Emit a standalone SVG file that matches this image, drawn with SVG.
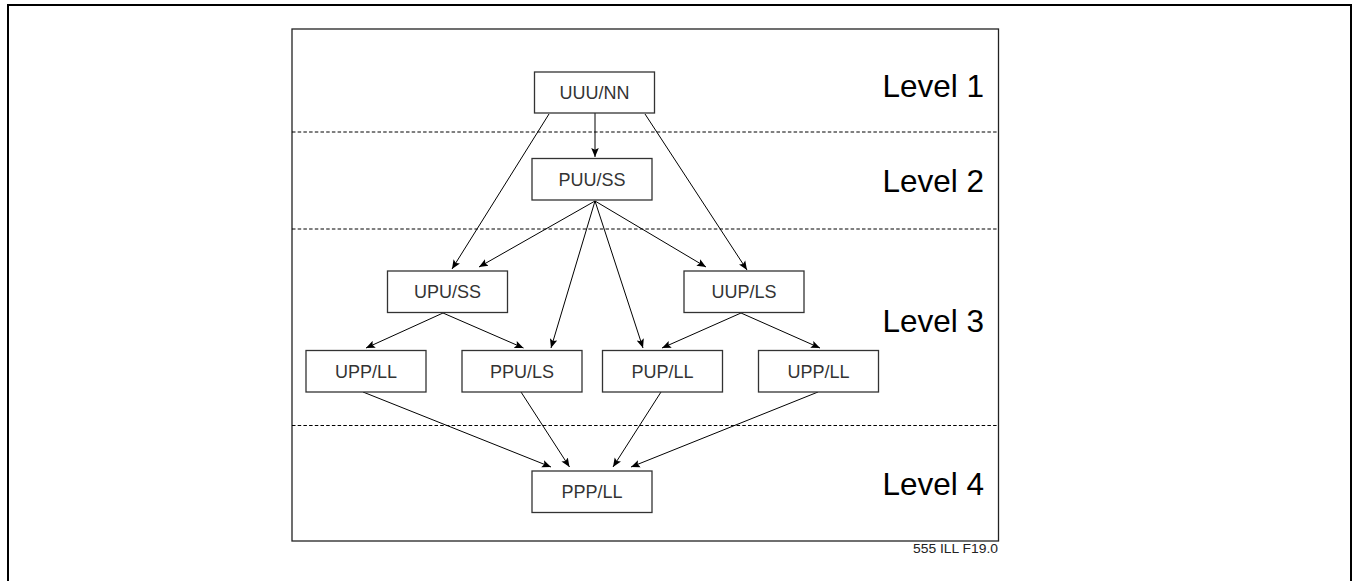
<svg xmlns="http://www.w3.org/2000/svg" width="1353" height="581" viewBox="0 0 1353 581">
<style>
.node rect{fill:#fff;stroke:#333;stroke-width:1.3}
.node text{font-family:"Liberation Sans",Arial,sans-serif;font-size:18px;fill:#333;text-anchor:middle}
.lvl{font-family:"Liberation Sans",Arial,sans-serif;font-size:31.5px;fill:#000}
.dash{stroke:#000;stroke-width:1;stroke-dasharray:3.5 2.2}
#connectors line{stroke:#000;stroke-width:1;marker-end:url(#arr)}
</style>
<defs>
<marker id="arr" viewBox="0 0 10 10" refX="10" refY="5" markerWidth="9" markerHeight="9" markerUnits="userSpaceOnUse" orient="auto">
<path d="M0,0.8 L10,5 L0,9.2 L2,5 z" fill="#000"/>
</marker>
</defs>
<rect width="1353" height="581" fill="#fff"/>
<path d="M8,583 V5 H1351 V583" fill="none" stroke="#000" stroke-width="2"/>
<rect x="292" y="29" width="706.5" height="512" fill="none" stroke="#222" stroke-width="1.3"/>
<g id="levels">
<line class="dash" x1="292" y1="132" x2="998" y2="132"/>
<line class="dash" x1="292" y1="229" x2="998" y2="229"/>
<line class="dash" x1="292" y1="425.5" x2="998" y2="425.5"/>
<text class="lvl" x="882.5" y="97">Level 1</text>
<text class="lvl" x="882.5" y="192">Level 2</text>
<text class="lvl" x="882.5" y="332">Level 3</text>
<text class="lvl" x="882.5" y="495">Level 4</text>
</g>
<g id="connectors">
<line x1="595" y1="113" x2="595" y2="157"/>
<line x1="549" y1="114" x2="452" y2="269"/>
<line x1="645" y1="114" x2="747" y2="270"/>
<line x1="595" y1="201" x2="479" y2="267"/>
<line x1="595" y1="201" x2="551" y2="348"/>
<line x1="595" y1="201" x2="643" y2="348"/>
<line x1="595" y1="201" x2="706" y2="267"/>
<line x1="443" y1="313" x2="366" y2="348"/>
<line x1="443" y1="313" x2="523.5" y2="348"/>
<line x1="741" y1="313" x2="662" y2="348"/>
<line x1="741" y1="313" x2="820" y2="348"/>
<line x1="363" y1="392" x2="551" y2="467"/>
<line x1="521" y1="392" x2="569.5" y2="467"/>
<line x1="661" y1="392" x2="613" y2="467"/>
<line x1="818" y1="392" x2="631" y2="467"/>
</g>
<g id="n-uuunn" class="node"><rect x="534.5" y="72" width="120" height="41"/><text x="594.5" y="99">UUU/NN</text></g>
<g id="n-puuss" class="node"><rect x="532" y="158.5" width="120" height="41.5"/><text x="592" y="185.5">PUU/SS</text></g>
<g id="n-upuss" class="node"><rect x="387.5" y="271" width="120" height="41.5"/><text x="447.5" y="298">UPU/SS</text></g>
<g id="n-uupls" class="node"><rect x="684" y="271" width="120" height="41.5"/><text x="744" y="298">UUP/LS</text></g>
<g id="n-uppll1" class="node"><rect x="306" y="350.5" width="120" height="41.5"/><text x="366" y="377.5">UPP/LL</text></g>
<g id="n-ppuls" class="node"><rect x="462" y="350.5" width="120" height="41.5"/><text x="522" y="377.5">PPU/LS</text></g>
<g id="n-pupll" class="node"><rect x="602.5" y="350.5" width="120" height="41.5"/><text x="662.5" y="377.5">PUP/LL</text></g>
<g id="n-uppll2" class="node"><rect x="758.5" y="350.5" width="120" height="41.5"/><text x="818.5" y="377.5">UPP/LL</text></g>
<g id="n-pppll" class="node"><rect x="532" y="471" width="120" height="41.5"/><text x="592" y="498">PPP/LL</text></g>
<text x="998" y="553" font-family="'Liberation Sans',Arial,sans-serif" font-size="12.5" fill="#222" text-anchor="end" textLength="85" lengthAdjust="spacingAndGlyphs">555 ILL F19.0</text>
</svg>
